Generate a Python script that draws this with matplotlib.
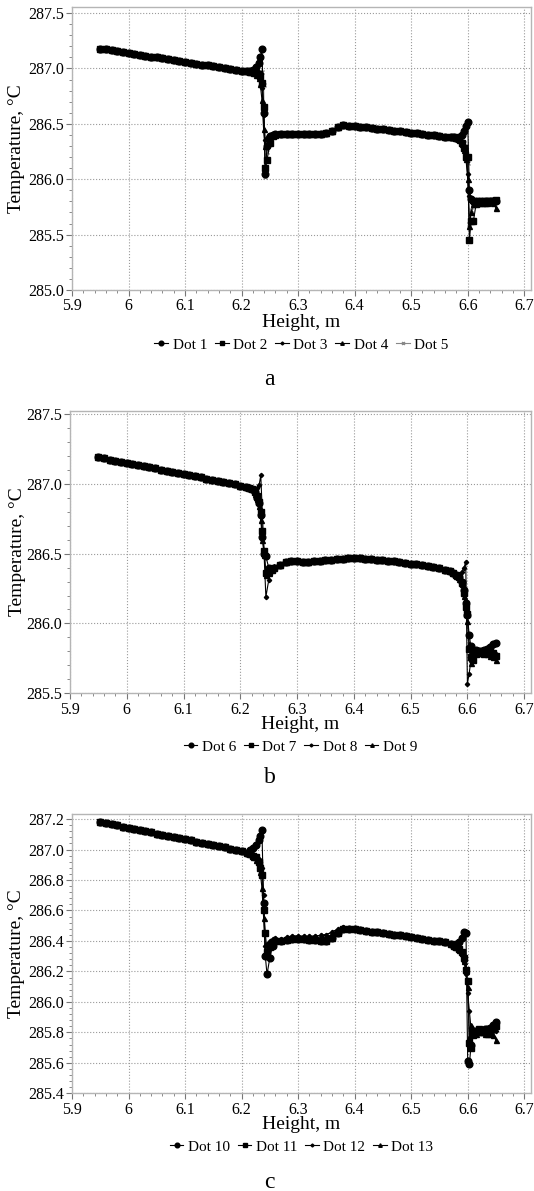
import numpy as np
import matplotlib
matplotlib.use('Agg')
import matplotlib.pyplot as plt
from matplotlib.ticker import MultipleLocator, FuncFormatter

plt.rcParams['font.family'] = ['Liberation Serif', 'DejaVu Serif']

# common height grids (m)
x_left = [5.95, 5.96, 5.97, 5.98, 5.99, 6.00, 6.01, 6.02, 6.03, 6.04, 6.05, 6.06, 6.07,
          6.08, 6.09, 6.10, 6.11, 6.12, 6.13, 6.14, 6.15, 6.16, 6.17, 6.18, 6.19, 6.20]
x_j1 = [6.21, 6.215, 6.22, 6.225, 6.23, 6.233, 6.236, 6.239, 6.242, 6.245, 6.25, 6.255, 6.26]
x_mid = [6.27, 6.28, 6.29, 6.30, 6.31, 6.32, 6.33, 6.34, 6.35, 6.36, 6.37, 6.38, 6.39, 6.40,
         6.41, 6.42, 6.43, 6.44, 6.45, 6.46, 6.47, 6.48, 6.49, 6.50, 6.51, 6.52, 6.53, 6.54,
         6.55, 6.56, 6.57]
x_j2 = [6.575, 6.58, 6.585, 6.59, 6.594, 6.597, 6.60, 6.603, 6.606, 6.61, 6.615, 6.62,
        6.625, 6.63, 6.635, 6.64, 6.645, 6.65]

# ---- panel a ----
left_a = [287.180, 287.172, 287.164, 287.156, 287.148, 287.140, 287.132, 287.124, 287.116,
          287.108, 287.100, 287.092, 287.084, 287.076, 287.068, 287.060, 287.052, 287.044,
          287.036, 287.028, 287.020, 287.012, 287.004, 286.996, 286.988, 286.980]
mid_a = [286.410, 286.410, 286.410, 286.410, 286.410, 286.410, 286.410, 286.410, 286.420, 286.440,
         286.470, 286.488, 286.485, 286.480, 286.474, 286.468, 286.462, 286.456, 286.450, 286.445,
         286.440, 286.434, 286.428, 286.422, 286.416, 286.410, 286.404, 286.398, 286.392, 286.386,
         286.380]
j1_a = [
    [286.98, 286.98, 286.99, 287.01, 287.05, 287.10, 287.18, 286.60, 286.05, 286.30, 286.39, 286.40, 286.41],
    [286.98, 286.97, 286.97, 286.96, 286.95, 286.93, 286.87, 286.65, 286.10, 286.17, 286.33, 286.39, 286.40],
    [286.98, 286.98, 286.97, 286.96, 286.94, 286.90, 286.82, 286.58, 286.35, 286.37, 286.39, 286.40, 286.40],
    [286.98, 286.97, 286.96, 286.94, 286.91, 286.86, 286.72, 286.45, 286.30, 286.38, 286.40, 286.41, 286.41],
    [286.98, 286.98, 286.98, 286.97, 286.97, 286.98, 286.97, 286.85, 286.02, 286.25, 286.36, 286.40, 286.40],
]
j2_a = [
    [286.38, 286.37, 286.38, 286.40, 286.44, 286.48, 286.52, 285.90, 285.82, 285.80, 285.80, 285.80,
     285.80, 285.80, 285.80, 285.80, 285.80, 285.80],
    [286.38, 286.37, 286.36, 286.33, 286.28, 286.20, 286.20, 285.45, 285.62, 285.62, 285.78, 285.79,
     285.79, 285.79, 285.79, 285.80, 285.80, 285.81],
    [286.38, 286.37, 286.36, 286.34, 286.30, 286.25, 286.05, 285.85, 285.80, 285.79, 285.80, 285.80,
     285.80, 285.80, 285.80, 285.80, 285.80, 285.80],
    [286.38, 286.37, 286.35, 286.32, 286.26, 286.18, 286.00, 285.58, 285.70, 285.78, 285.80, 285.80,
     285.80, 285.80, 285.80, 285.80, 285.79, 285.74],
    [286.38, 286.37, 286.36, 286.35, 286.33, 286.30, 286.15, 285.60, 285.72, 285.79, 285.80, 285.80,
     285.80, 285.80, 285.80, 285.80, 285.80, 285.80],
]
names_a = ['Dot 1', 'Dot 2', 'Dot 3', 'Dot 4', 'Dot 5']

# ---- panel b ----
left_b = [287.190, 287.182, 287.174, 287.166, 287.158, 287.150, 287.142, 287.134, 287.126,
          287.118, 287.110, 287.102, 287.094, 287.086, 287.078, 287.070, 287.062, 287.054,
          287.046, 287.038, 287.030, 287.022, 287.014, 287.006, 286.998, 286.988]
mid_b = [286.420, 286.440, 286.448, 286.444, 286.442, 286.442, 286.444, 286.448, 286.452, 286.456,
         286.460, 286.464, 286.467, 286.468, 286.467, 286.465, 286.462, 286.458, 286.454, 286.449,
         286.444, 286.439, 286.434, 286.429, 286.423, 286.416, 286.409, 286.402, 286.394, 286.385,
         286.375]
j1_b = [
    [286.98, 286.97, 286.96, 286.94, 286.90, 286.86, 286.78, 286.62, 286.50, 286.48, 286.40, 286.39, 286.40],
    [286.98, 286.97, 286.96, 286.94, 286.91, 286.87, 286.80, 286.66, 286.52, 286.36, 286.37, 286.38, 286.40],
    [286.98, 286.97, 286.96, 286.96, 286.97, 286.99, 287.06, 286.77, 286.48, 286.19, 286.31, 286.38, 286.40],
    [286.98, 286.97, 286.96, 286.93, 286.89, 286.84, 286.74, 286.60, 286.49, 286.35, 286.36, 286.39, 286.41],
]
j2_b = [
    [286.36, 286.35, 286.33, 286.30, 286.24, 286.15, 286.06, 285.92, 285.84, 285.80, 285.81, 285.80,
     285.80, 285.81, 285.82, 285.83, 285.85, 285.86],
    [286.36, 286.35, 286.33, 286.29, 286.22, 286.12, 286.07, 285.82, 285.76, 285.74, 285.78, 285.80,
     285.79, 285.78, 285.79, 285.80, 285.79, 285.77],
    [286.36, 286.35, 286.35, 286.37, 286.40, 286.44, 285.57, 285.64, 285.73, 285.78, 285.80, 285.80,
     285.81, 285.80, 285.80, 285.79, 285.78, 285.78],
    [286.36, 286.34, 286.32, 286.28, 286.20, 286.10, 286.02, 285.85, 285.72, 285.76, 285.79, 285.79,
     285.81, 285.80, 285.78, 285.77, 285.76, 285.74],
]
names_b = ['Dot 6', 'Dot 7', 'Dot 8', 'Dot 9']

# ---- panel c ----
left_c = [287.180, 287.173, 287.166, 287.158, 287.151, 287.144, 287.136, 287.128, 287.120,
          287.112, 287.104, 287.097, 287.090, 287.082, 287.075, 287.068, 287.060, 287.052,
          287.044, 287.036, 287.028, 287.021, 287.014, 287.006, 286.998, 286.990]
mid_c_low = [286.400, 286.408, 286.410, 286.410, 286.410, 286.409, 286.406, 286.402, 286.402,
             286.420, 286.455, 286.478, 286.480, 286.476, 286.471, 286.466, 286.461, 286.456,
             286.451, 286.446, 286.441, 286.436, 286.431, 286.426, 286.421, 286.415, 286.409,
             286.403, 286.397, 286.390, 286.383]
mid_c_high = [286.410, 286.425, 286.432, 286.432, 286.430, 286.430, 286.432, 286.436, 286.442,
              286.458, 286.478, 286.490, 286.488, 286.483, 286.478, 286.473, 286.467, 286.462,
              286.457, 286.452, 286.446, 286.441, 286.436, 286.430, 286.425, 286.419, 286.413,
              286.407, 286.400, 286.392, 286.385]
j1_c = [
    [286.98, 287.00, 287.01, 287.03, 287.06, 287.09, 287.13, 286.65, 286.30, 286.18, 286.29, 286.37, 286.40],
    [286.98, 286.97, 286.96, 286.95, 286.92, 286.88, 286.83, 286.60, 286.45, 286.33, 286.37, 286.39, 286.40],
    [286.98, 286.98, 286.97, 286.96, 286.94, 286.92, 286.88, 286.70, 286.37, 286.38, 286.40, 286.41, 286.42],
    [286.98, 286.97, 286.95, 286.93, 286.90, 286.85, 286.75, 286.55, 286.32, 286.30, 286.36, 286.40, 286.42],
]
j2_c = [
    [286.37, 286.38, 286.39, 286.42, 286.46, 286.45, 285.61, 285.59, 285.72, 285.80, 285.81, 285.81,
     285.81, 285.82, 285.82, 285.83, 285.85, 285.87],
    [286.37, 286.36, 286.35, 286.33, 286.29, 286.21, 286.14, 285.73, 285.70, 285.78, 285.81, 285.82,
     285.80, 285.80, 285.81, 285.80, 285.82, 285.84],
    [286.37, 286.36, 286.34, 286.31, 286.26, 286.18, 286.06, 285.94, 285.82, 285.80, 285.80, 285.80,
     285.81, 285.80, 285.80, 285.80, 285.81, 285.81],
    [286.37, 286.36, 286.34, 286.32, 286.27, 286.20, 286.10, 285.77, 285.85, 285.80, 285.79, 285.80,
     285.80, 285.79, 285.79, 285.79, 285.78, 285.75],
]
names_c = ['Dot 10', 'Dot 11', 'Dot 12', 'Dot 13']

styles = [
    dict(marker='o', ms=4.8, color='black', lw=0.8),
    dict(marker='s', ms=4.4, color='black', lw=0.8),
    dict(marker='D', ms=2.2, color='black', lw=0.8),
    dict(marker='^', ms=3.6, color='black', lw=0.8),
    dict(marker='x', ms=3.0, color='#888888', lw=0.8),
]

x_all = np.concatenate([x_left, x_j1, x_mid, x_j2])

fig = plt.figure(figsize=(5.34, 11.91), dpi=100)

panels = [
    dict(rect=[0.1348, 0.7565, 0.8596, 0.2376], ylim=(285.0, 287.555), major=0.5, minor=0.1,
         left=left_a, mids=[mid_a] * 5, j1=j1_a, j2=j2_a, names=names_a,
         ylab_x=-0.12, leg_y=-0.194, xlab_y=-0.115, letter='a', letter_y=0.681),
    dict(rect=[0.1311, 0.4179, 0.8633, 0.2373], ylim=(285.5, 287.524), major=0.5, minor=0.1,
         left=left_b, mids=[mid_b] * 4, j1=j1_b, j2=j2_b, names=names_b,
         ylab_x=-0.114, leg_y=-0.189, xlab_y=-0.112, letter='b', letter_y=0.347),
    dict(rect=[0.1348, 0.0820, 0.8596, 0.2345], ylim=(285.4, 287.233), major=0.2, minor=0.04,
         left=left_c, mids=[mid_c_low, mid_c_low, mid_c_high, mid_c_high], j1=j1_c, j2=j2_c,
         names=names_c, ylab_x=-0.12, leg_y=-0.191, xlab_y=-0.113, letter='c', letter_y=0.0075),
]

for p in panels:
    ax = fig.add_axes(p['rect'])
    for k, name in enumerate(p['names']):
        y = np.concatenate([p['left'], p['j1'][k], p['mids'][k], p['j2'][k]])
        ax.plot(x_all, y, label=name, zorder=10 - k, **styles[k])

    ax.set_xlim(5.9, 6.712)
    ax.set_ylim(*p['ylim'])
    ax.xaxis.set_major_locator(MultipleLocator(0.1))
    ax.xaxis.set_minor_locator(MultipleLocator(0.02))
    ax.yaxis.set_major_locator(MultipleLocator(p['major']))
    ax.yaxis.set_minor_locator(MultipleLocator(p['minor']))
    ax.xaxis.set_major_formatter(FuncFormatter(lambda v, pos: '%g' % round(v, 2)))
    ax.yaxis.set_major_formatter(FuncFormatter(lambda v, pos: '%.1f' % v))
    ax.tick_params(which='major', length=4, width=0.8, color='#777777', labelsize=11.5, pad=2)
    ax.tick_params(which='minor', length=2, width=0.6, color='#777777')
    ax.grid(True, which='major', linestyle=':', color='#9a9a9a', linewidth=0.8)
    for s in ax.spines.values():
        s.set_color('#b5b5b5')
        s.set_linewidth(1.0)

    ax.set_xlabel('Height, m', fontsize=14, va='center')
    ax.xaxis.set_label_coords(0.5, p['xlab_y'])
    ax.set_ylabel('Temperature, °C', fontsize=14, va='center')
    ax.yaxis.set_label_coords(p['ylab_x'], 0.5)

    ax.legend(loc='center', bbox_to_anchor=(0.5, p['leg_y']), ncol=len(p['names']),
              frameon=False, fontsize=11, handlelength=0.9, handletextpad=0.3,
              columnspacing=0.5, borderpad=0.1, markerscale=0.7)

    fig.text(0.505, p['letter_y'], p['letter'], ha='center', va='center', fontsize=17)

fig.savefig('out.png', dpi=100)
